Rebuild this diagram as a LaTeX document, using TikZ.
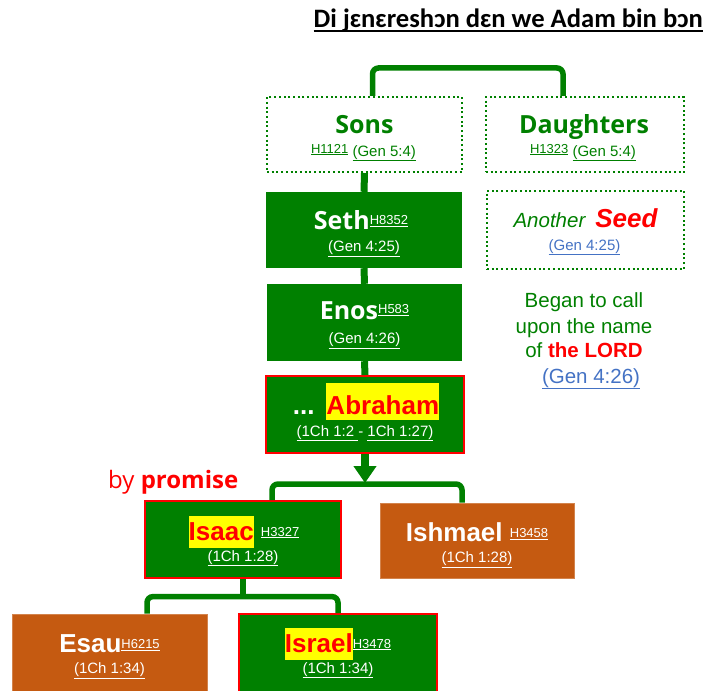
\documentclass[tikz,border=0pt]{standalone}
\usepackage{fontspec}
\setmainfont{Liberation Sans}
\newfontfamily\roundsans{Open Sans}
\newfontfamily\headfont{Carlito}
\usetikzlibrary{arrows.meta,calc}

\definecolor{leafgreen}{RGB}{0,128,0}
\definecolor{rust}{RGB}{197,90,17}
\definecolor{refblue}{RGB}{68,114,196}
\definecolor{hired}{RGB}{255,0,0}
\definecolor{hiyellow}{RGB}{255,255,0}

\newcommand\fsz[1]{\fontsize{#1}{#1}\selectfont}
% Strong's number, small, regular weight, underlined and raised
\newcommand\hnum[2][5pt]{\raisebox{#1}{\normalfont\fsz{13}\underline{#2}}}
% highlighted name: text, depth below baseline, total height
\newcommand\hlname[3]{{\setlength\fboxsep{0pt}\colorbox{hiyellow}{\rule[-#2]{0pt}{#3}\color{hired}#1}}}

\tikzset{
  dotbox/.style={rectangle, draw=leafgreen, line width=2pt,
    dash pattern=on 2pt off 2.7pt, inner sep=0pt},
  solidbox/.style={rectangle, fill=leafgreen, inner sep=0pt},
  promisebox/.style={rectangle, fill=leafgreen, draw=hired, line width=2pt, inner sep=0pt},
  rustbox/.style={rectangle, fill=rust, draw=rust!75!white, line width=0.8pt, inner sep=0pt},
  nametxt/.style={anchor=base, inner sep=0pt, font=\fsz{26}\bfseries},
  roundname/.style={anchor=base, inner sep=0pt, font=\roundsans\fsz{25}\bfseries},
  reftxt/.style={anchor=base, inner sep=0pt, font=\fsz{15}},
  calltxt/.style={anchor=base, inner sep=0pt, font=\fsz{20.5}, text=leafgreen},
  stem/.style={draw=leafgreen, line width=7pt},
  branch/.style={draw=leafgreen, line width=5.5pt, rounded corners=6pt},
  arrowstem/.style={draw=leafgreen, line width=8pt, -{Triangle[width=22pt,length=17pt]}},
}

\begin{document}
\begin{tikzpicture}[x=1pt,y=-1pt]
\useasboundingbox (0,0) rectangle (706,690);

% heading
\node[anchor=base east, inner sep=0pt, font=\headfont\fsz{26.6}\bfseries] (title) at (703,28)
  {Di jɛnɛreshɔn dɛn we Adam bin bɔn};
\draw[line width=1.9pt] ([yshift=-3pt]title.base west) -- ([yshift=-3pt]title.base east);

% boxes
\node[dotbox, minimum width=195, minimum height=75] (sons) at (364.5,134.5) {};
\node[dotbox, minimum width=198, minimum height=75] (daughters) at (585,134.5) {};
\node[solidbox, minimum width=196, minimum height=76] (seth) at (364,230) {};
\node[dotbox, minimum width=197, minimum height=78] (seed) at (585.5,230) {};
\node[solidbox, minimum width=195, minimum height=77] (enos) at (364.5,322.5) {};
\node[promisebox, minimum width=198, minimum height=77] (abraham) at (365,414.5) {};
\node[promisebox, minimum width=196, minimum height=77] (isaac) at (243,539.5) {};
\node[rustbox, minimum width=194, minimum height=75] (ishmael) at (477,540.5) {};
\node[rustbox, minimum width=195, minimum height=80] (esau) at (109.5,654) {};
\node[promisebox, minimum width=198, minimum height=80] (israel) at (338,654) {};

% connectors
\draw[branch] ([xshift=8pt]sons.north) -- ++(0,-28) -| ([xshift=-22pt]daughters.north);
\draw[stem] (sons.south) -- (seth.north);
\draw[stem] (seth.south) -- (enos.north);
\draw[stem] (enos.south) -- (abraham.north);
\draw[arrowstem] (abraham.south) -- ++(0,29);
\draw[branch] ([xshift=29pt]isaac.north) -- ++(0,-16) -| ([xshift=-15pt]ishmael.north);
\draw[branch] (isaac.south) -- ++(0,19);
\draw[branch] ([xshift=37.5pt]esau.north) -- ++(0,-17) -| (israel.north);

% texts of the boxes
\node[roundname, text=leafgreen] (sonsname) at ($(sons.north)+(0,37)$) {Sons};
\node[reftxt, text=leafgreen] (sonsref) at ($(sons.north)+(-1,60)$) {\hnum[3pt]{H1121} \underline{(Gen 5:4)}};
\node[roundname, text=leafgreen] (daughtersname) at ($(daughters.north)+(-1,37)$) {Daughters};
\node[reftxt, text=leafgreen] (daughtersref) at ($(daughters.north)+(-2,60)$) {\hnum[3pt]{H1323} \underline{(Gen 5:4)}};

\node[roundname, text=white] (sethname) at ($(seth.north)+(-3,38)$) {Seth\hnum[5pt]{H8352}};
\node[reftxt, text=white] (sethref) at ($(seth.north)+(0,60)$) {\underline{(Gen 4:25)}};

\node[anchor=base, inner sep=0pt] (seedname) at ($(seed.north)+(0,37)$)
  {\textcolor{leafgreen}{\fsz{20.5}\itshape Another}\hspace{10pt}\textcolor{hired}{\fsz{26}\bfseries\itshape Seed}};
\node[reftxt, text=refblue] (seedref) at ($(seed.north)+(-1,60)$) {\underline{(Gen 4:25)}};

\node[roundname, text=white] (enosname) at ($(enos.north)+(0,36)$) {Enos\hnum[6pt]{H583}};
\node[reftxt, text=white] (enosref) at ($(enos.north)+(0,60)$) {\underline{(Gen 4:26)}};

\node[nametxt, text=white] (abrahamname) at ($(abraham.north)+(1,39)$)
  {...\hspace{12pt}\hlname{Abraham}{0.23em}{1.42em}};
\node[reftxt, text=white] (abrahamref) at ($(abraham.north)+(0,61)$)
  {\underline{(1Ch 1:2\ }-\ \underline{1Ch 1:27)}};

\node[nametxt, text=white] (isaacname) at ($(isaac.north)+(1,40)$)
  {\hlname{Isaac}{0.31em}{1.23em}\ \hnum[4pt]{H3327}};
\node[reftxt, text=white] (isaacref) at ($(isaac.north)+(0,61)$) {\underline{(1Ch 1:28)}};

\node[nametxt, text=white] (ishmaelname) at ($(ishmael.north)+(0,39)$)
  {Ishmael\ \hnum[4pt]{H3458}};
\node[reftxt, text=white] (ishmaelref) at ($(ishmael.north)+(0,60)$) {\underline{(1Ch 1:28)}};

\node[nametxt, text=white] (esauname) at ($(esau.north)+(0,39)$) {Esau\hnum[4pt]{H6215}};
\node[reftxt, text=white] (esauref) at ($(esau.north)+(0,60)$) {\underline{(1Ch 1:34)}};

\node[nametxt, text=white] (israelname) at ($(israel.north)+(0,39)$)
  {\hlname{Israel}{0.31em}{1.23em}\hnum[4pt]{H3478}};
\node[reftxt, text=white] (israelref) at ($(israel.north)+(0,60)$) {\underline{(1Ch 1:34)}};

% side note
\node[calltxt] (call1) at (584,307) {Began to call};
\node[calltxt] (call2) at (584,333) {upon the name};
\node[calltxt] (call3) at (584,357) {of \textcolor{hired}{\bfseries the LORD}};
\node[calltxt, text=refblue] (call4) at (591,383) {\underline{(Gen 4:26)}};

% label over the promised line
\node[anchor=base west, inner sep=0pt, text=hired, font=\roundsans\fsz{24}] (promise) at (108,488)
  {by \textbf{promise}};
\end{tikzpicture}
\end{document}
